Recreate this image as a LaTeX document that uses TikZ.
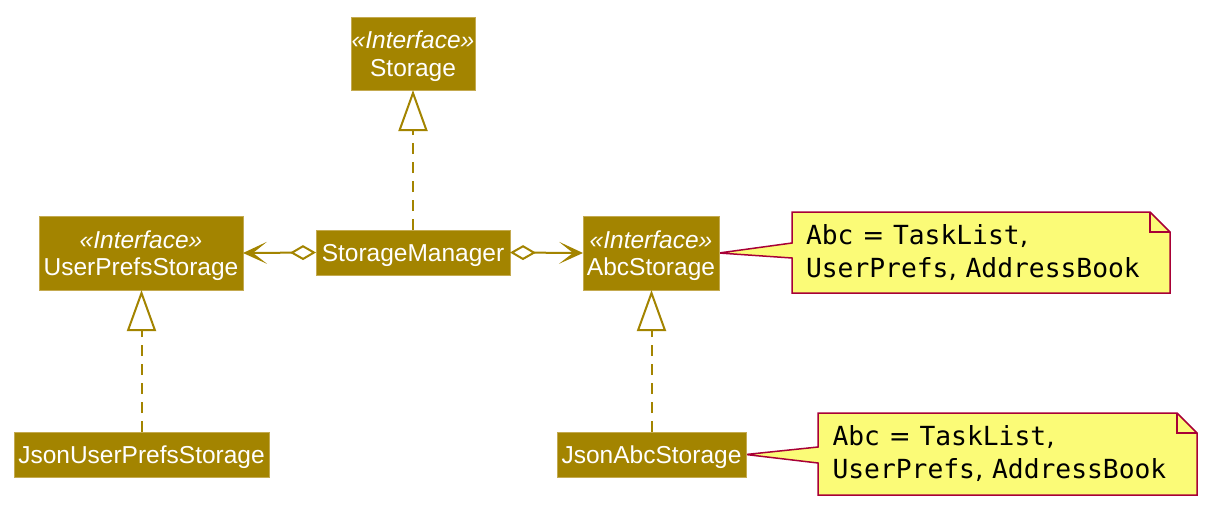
\documentclass[tikz,border=0pt]{standalone}
\usepackage{fontspec}
\setmainfont{Liberation Sans}
\newfontfamily\monof{DejaVu Sans Mono}
\newfontfamily\dvs{DejaVu Sans}
\usetikzlibrary{arrows.meta,backgrounds}
\definecolor{umlgold}{RGB}{163,132,0}
\definecolor{umledge}{RGB}{196,170,80}
\definecolor{notefill}{RGB}{251,251,119}
\definecolor{noteedge}{RGB}{168,0,54}
\begin{document}
\begin{tikzpicture}[x=1pt,y=-1pt,
 cls/.style={rectangle, fill=umlgold, draw=umledge, line width=0.8pt, text=white, inner sep=0pt, outer sep=0pt, align=center, text depth=0pt, font=\fontsize{24.5}{27.5}\selectfont},
 realize/.style={draw=umlgold, line width=2pt, dash pattern=on 11pt off 8pt, -{Triangle[open,length=41pt,width=29pt]}},
 assoc/.style={draw=umlgold, line width=2pt, {Diamond[open,length=26pt,width=15pt]}-{Stealth[length=24pt,width=22pt,inset=14pt]}},
 note/.style={inner sep=0pt, outer sep=0pt, text width=350pt, align=left, font=\fontsize{26.3}{33}\selectfont},
 noteline/.style={draw=noteedge, line width=1.5pt, fill=notefill, line join=miter},
]
\useasboundingbox (0,0) rectangle (1218,517);

\node[cls, minimum width=124pt, minimum height=73pt] (storage) at (413,53.5) {\textit{«Interface»}\\Storage};
\node[cls, minimum width=204pt, minimum height=74pt] (ups) at (141,253) {\textit{«Interface»}\\UserPrefsStorage};
\node[cls, minimum width=194pt, minimum height=45pt] (sm) at (413,252.5) {StorageManager};
\node[cls, minimum width=136pt, minimum height=74pt] (abc) at (651,253) {\textit{«Interface»}\\AbcStorage};
\node[cls, minimum width=255pt, minimum height=45pt] (jups) at (141.5,454.5) {JsonUserPrefsStorage};
\node[cls, minimum width=189pt, minimum height=45pt] (jabc) at (651.5,454.5) {JsonAbcStorage};

\draw[realize] (sm.north) -- (storage.south);
\draw[realize] (jups.north) -- (jups.north |- ups.south);
\draw[realize] (jabc.north) -- (jabc.north |- abc.south);
\draw[assoc] (sm.west) -- (ups.east);
\draw[assoc] (sm.east) -- (abc.west);

\node[note, minimum width=378pt, minimum height=81pt] (n1) at (981,252.5)
 {{\monof Abc}{\dvs\ =\ }{\monof TaskList}{\dvs,}\\{\monof UserPrefs}{\dvs, }{\monof AddressBook}};
\node[note, minimum width=379pt, minimum height=82pt] (n2) at (1007.5,454)
 {{\monof Abc}{\dvs\ =\ }{\monof TaskList}{\dvs,}\\{\monof UserPrefs}{\dvs, }{\monof AddressBook}};

\begin{scope}[on background layer]
\draw[noteline] (n1.north west) -- ([xshift=-20pt]n1.north east) -- ([yshift=-20pt]n1.north east) -- (n1.south east) -- (n1.south west) -- ([yshift=-5.5pt]n1.west) -- (abc.east) -- ([yshift=9.5pt]n1.west) -- cycle;
\draw[noteedge, line width=1.5pt] ([xshift=-20pt]n1.north east) -- ([xshift=-20pt,yshift=-20pt]n1.north east) -- ([yshift=-20pt]n1.north east);
\draw[noteline] (n2.north west) -- ([xshift=-20pt]n2.north east) -- ([yshift=-20pt]n2.north east) -- (n2.south east) -- (n2.south west) -- ([yshift=-9pt]n2.west) -- (jabc.east) -- ([yshift=7pt]n2.west) -- cycle;
\draw[noteedge, line width=1.5pt] ([xshift=-20pt]n2.north east) -- ([xshift=-20pt,yshift=-20pt]n2.north east) -- ([yshift=-20pt]n2.north east);
\end{scope}
\end{tikzpicture}
\end{document}
